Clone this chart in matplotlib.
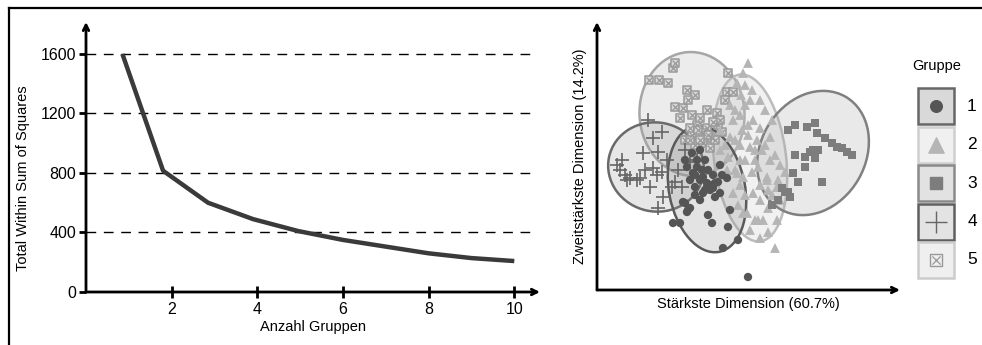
import matplotlib.pyplot as plt
from matplotlib.patches import Ellipse, Rectangle
from matplotlib.lines import Line2D

plt.rcParams['font.family'] = ['Liberation Sans', 'DejaVu Sans']

# elbow curve
k_vals = [0.85, 1.8, 2.85, 3.9, 4.95, 6, 7, 8, 9, 10]
wss = [1600, 815, 600, 490, 410, 350, 305, 260, 228, 208]
y_ticks = [0, 400, 800, 1200, 1600]
x_ticks = [2, 4, 6, 8, 10]

# cluster plot (first two components)
g1_x = [9.2, 9.7, 8.7, 9.3, 9.7, 11.3, 10.3, 9.5, 10.7, 10.7, 11.0, 11.2, 11.5, 10.3, 12.0, 12.7, 9.5,
        8.5, 8.3, 8.8, 9.0, 8.7, 7.3, 8.0, 10.8, 11.2, 13.0, 12.8, 13.8, 12.3, 14.8, 10.0, 10.5, 12.0,
        10.0, 10.5, 11.3, 11.8, 10.2, 9.0, 8.5, 11.5, 10.0, 12.2, 10.8, 9.5]
g1_y = [14.7, 14.0, 13.3, 12.7, 13.3, 12.5, 12.3, 12.5, 11.7, 11.3, 11.0, 11.5, 11.7, 10.7, 10.7, 12.2, 11.3,
        9.7, 9.8, 9.0, 9.2, 8.8, 7.7, 7.7, 8.5, 7.7, 9.0, 7.3, 6.0, 5.2, 2.3, 15.0, 14.0, 13.5,
        12.0, 11.0, 11.2, 11.8, 13.0, 12.0, 14.0, 10.3, 10.0, 12.5, 13.0, 10.5]
g2_x = [14.8, 14.3, 13.7, 14.1, 14.5, 13.5, 15.3, 17.2, 13.3, 16.0, 13.0, 17.0, 14.8, 14.0, 16.2, 15.0,
        12.8, 14.0, 15.5, 13.5, 14.3, 15.8, 16.7, 17.7, 13.7, 14.0, 16.7, 17.8, 16.8, 13.3, 15.3, 18.0,
        16.8, 14.7, 14.3, 15.5, 15.8, 16.3, 17.7, 16.8, 17.5, 12.5, 12.0, 15.0, 15.7,
        14.5, 15.2, 16.0, 16.5, 14.0, 14.8, 16.5, 17.5, 18.0, 15.2, 16.0, 14.5, 13.8, 16.0, 17.2,
        15.0, 16.0, 13.5, 12.7, 12.0, 18.5, 17.0, 15.5, 14.5, 14.2, 13.0]
g2_y = [23.7, 22.7, 21.7, 20.5, 19.5, 19.0, 18.0, 18.0, 18.0, 17.2, 16.3, 16.3, 16.5, 15.5, 15.0, 15.3,
        14.3, 14.0, 14.0, 13.0, 12.3, 13.3, 12.3, 11.3, 12.7, 11.5, 12.0, 12.0, 11.0, 10.7, 10.7, 10.0,
        9.2, 8.7, 8.7, 8.0, 8.0, 8.0, 8.0, 6.8, 5.2, 15.5, 17.0, 20.0, 16.0,
        21.5, 21.0, 20.0, 19.0, 18.5, 17.5, 15.5, 14.5, 13.5, 12.8, 11.5, 10.5, 9.5, 10.0, 10.5,
        7.0, 6.2, 16.0, 13.0, 15.0, 12.8, 14.0, 15.0, 14.0, 17.0, 19.5]
g3_x = [18.8, 19.5, 20.7, 21.5, 21.7, 22.5, 23.2, 23.7, 24.2, 24.7, 25.2, 21.0, 21.3, 21.8, 21.5, 20.5,
        19.5, 20.5, 19.8, 22.2, 18.2, 18.8, 19.0, 18.5, 19.3, 17.8, 17.2]
g3_y = [17.0, 17.5, 17.3, 17.7, 16.7, 16.2, 15.7, 15.3, 15.2, 14.8, 14.5, 14.8, 15.0, 15.0, 14.2, 14.3,
        14.5, 13.3, 11.8, 11.8, 11.2, 10.8, 10.3, 10.8, 12.7, 10.0, 9.5]
g4_x = [1.7, 2.0, 2.5, 3.0, 3.7, 4.0, 2.2, 2.7, 4.3, 4.5, 4.8, 5.3, 6.2, 5.8, 5.3, 5.7, 6.2, 6.7, 7.5,
        8.2, 7.2, 6.3, 5.8, 7.8, 5.0, 9.0, 8.5, 9.7]
g4_y = [13.5, 13.0, 12.5, 12.2, 12.0, 12.2, 14.0, 12.0, 14.7, 13.0, 18.0, 16.2, 16.8, 14.8, 13.2, 12.5,
        12.8, 14.0, 11.8, 11.3, 11.3, 10.3, 9.2, 13.0, 11.3, 13.8, 15.0, 14.0]
g5_x = [4.9, 5.9, 6.8, 7.3, 7.5, 8.7, 9.5, 7.5, 8.3, 10.7, 11.7, 9.2, 8.0, 9.7, 10.7, 10.3, 9.2, 12.8,
        12.7, 13.3, 8.5, 10.3, 12.2, 9.0, 11.2, 10.0, 11.8, 9.5, 11.0,
        9.8, 10.8, 11.5, 12.0, 9.0, 10.0, 12.5, 11.3, 8.8]
g5_y = [22.0, 22.0, 21.7, 23.2, 23.7, 21.0, 20.5, 19.3, 19.2, 19.0, 18.7, 18.5, 18.2, 17.5, 17.2, 16.7,
        16.5, 22.7, 20.8, 20.8, 16.0, 15.7, 16.8, 17.2, 16.2, 18.2, 17.5, 15.5, 15.2,
        17.0, 16.5, 16.0, 18.0, 16.0, 16.0, 20.0, 17.8, 20.0]

# ellipses: centre x, centre y, width, height, angle
ell_1 = (10.7, 11.1, 7.6, 12.8, 11)
ell_2 = (15.0, 14.2, 7.2, 16.8, 7)
ell_3 = (21.3, 14.7, 13.0, 10.5, 60)
ell_4 = (5.6, 13.3, 9.6, 8.9, -12)
ell_5 = (9.2, 18.6, 10.5, 12.4, 4)
group_labels = ['1', '2', '3', '4', '5']

fig = plt.figure(figsize=(9.82, 3.45), dpi=100)

# ---- left: elbow plot ----
ax = fig.add_axes([86/982, 1-292/345, 454/982, 270/345])
ax.set_xlim(0, 10.6)
ax.set_ylim(0, 1815)
for yv in y_ticks[1:]:
    ax.plot([0, 10.5], [yv, yv], color='black', lw=1, dashes=(7, 5.5))
ax.plot(k_vals, wss, color='#3a3a3a', lw=3.2, solid_capstyle='butt')
for s in ax.spines.values():
    s.set_visible(False)
arrow = dict(arrowstyle='->', lw=2, color='black', mutation_scale=10, shrinkA=0, shrinkB=0)
ax.annotate('', xy=(0, 1.0), xytext=(0, 0), xycoords='axes fraction', arrowprops=arrow)
ax.annotate('', xy=(1.0, 0), xytext=(0, 0), xycoords='axes fraction', arrowprops=arrow)
ax.set_xticks(x_ticks)
ax.set_yticks(y_ticks)
ax.tick_params(axis='x', direction='inout', length=9, width=2, labelsize=11.5, pad=3)
ax.tick_params(axis='y', direction='out', length=5, width=2, labelsize=11.5, pad=2)
ax.set_xlabel('Anzahl Gruppen', fontsize=10.5, labelpad=2)
ax.set_ylabel('Total Within Sum of Squares', fontsize=10.5)
ax.yaxis.set_label_coords(-0.123, 0.42)

# ---- right: cluster plot ----
ax2 = fig.add_axes([597/982, 1-290/345, 303/982, 268/345])
ax2.set_xlim(-0.3, 30)
ax2.set_ylim(1.0, 27.8)
for s in ax2.spines.values():
    s.set_visible(False)
ax2.set_xticks([])
ax2.set_yticks([])
ax2.annotate('', xy=(0, 1.0), xytext=(0, 0), xycoords='axes fraction', arrowprops=arrow)
ax2.annotate('', xy=(1.0, 0), xytext=(0, 0), xycoords='axes fraction', arrowprops=arrow)

ell_style = [
    (ell_5, '#b5b5b5', '#a6a6a6'),
    (ell_2, '#c8c8c8', '#bcbcbc'),
    (ell_3, '#a8a8a8', '#808080'),
    (ell_4, '#a0a0a0', '#6a6a6a'),
    (ell_1, '#909090', '#5a5a5a'),
]
for (cx, cy, w, h, a), fc, ec in ell_style:
    ax2.add_patch(Ellipse((cx, cy), w, h, angle=a, facecolor=fc, alpha=0.25, edgecolor='none'))
    ax2.add_patch(Ellipse((cx, cy), w, h, angle=a, facecolor='none', edgecolor=ec, lw=1.8))

ax2.scatter(g5_x, g5_y, marker='s', s=36, facecolors='#d8d8d8', edgecolors='#999999', linewidths=1.1, zorder=3)
ax2.scatter(g5_x, g5_y, marker='x', s=18, color='#999999', linewidths=0.9, zorder=3)
ax2.scatter(g2_x, g2_y, marker='^', s=50, color='#b5b5b5', edgecolors='none', zorder=3)
ax2.scatter(g3_x, g3_y, marker='s', s=34, color='#7d7d7d', edgecolors='none', zorder=3)
ax2.scatter(g4_x, g4_y, marker='+', s=95, color='#666666', linewidths=1.2, zorder=3)
ax2.scatter(g1_x, g1_y, marker='o', s=36, color='#555555', edgecolors='none', zorder=4)

ax2.set_xlabel('Stärkste Dimension (60.7%)', fontsize=10.5, labelpad=5)
ax2.set_ylabel('Zweitstärkste Dimension (14.2%)', fontsize=10.5, labelpad=7)

# ---- legend ----
lg = fig.add_axes([912/982, 1-285/345, 50/982, 200/345])
lg.set_xlim(0, 50)
lg.set_ylim(200, 0)
lg.axis('off')
box_style = [('#d9d9d9', '#666666'), ('#f0f0f0', '#cfcfcf'), ('#e2e2e2', '#8a8a8a'),
             ('#e3e3e3', '#5f5f5f'), ('#efefef', '#cccccc')]
for i, (fc, ec) in enumerate(box_style):
    y0 = 3 + i * 38.5
    lg.add_patch(Rectangle((6, y0), 36, 36, facecolor=fc, edgecolor=ec, lw=1.8, clip_on=False))
    cy = y0 + 18
    if i == 0:
        lg.scatter([24], [cy], marker='o', s=70, color='#555555')
    elif i == 1:
        lg.scatter([24], [cy], marker='^', s=120, color='#b5b5b5')
    elif i == 2:
        lg.scatter([24], [cy], marker='s', s=80, color='#7d7d7d')
    elif i == 3:
        lg.scatter([24], [cy], marker='+', s=260, color='#666666', linewidths=1)
    else:
        lg.scatter([24], [cy], marker='s', s=70, facecolors='none', edgecolors='#999999', linewidths=1)
        lg.scatter([24], [cy], marker='x', s=35, color='#999999', linewidths=0.9)
    fig.text(972/982, 1-(285-200+cy)/345, group_labels[i], fontsize=12.5, ha='center', va='center')
fig.text(937/982, 1-66/345, 'Gruppe', fontsize=10.5, ha='center', va='center')

# frame lines (top and left)
fig.add_artist(Line2D([9/982, 1], [1-8/345, 1-8/345], transform=fig.transFigure, color='black', lw=1.6))
fig.add_artist(Line2D([9/982, 9/982], [0, 1-8/345], transform=fig.transFigure, color='black', lw=1.6))

fig.savefig('out.png', dpi=100)
